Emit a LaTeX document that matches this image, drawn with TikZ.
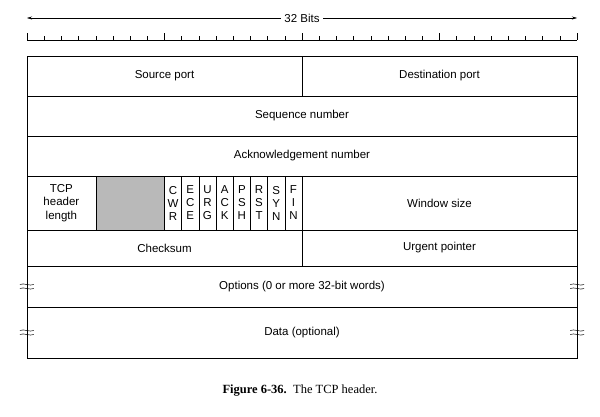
\documentclass[tikz,border=0pt]{standalone}
\usepackage{fontspec}
\setmainfont{Liberation Sans}
\newfontfamily\capfont{Liberation Serif}
\usetikzlibrary{arrows.meta}
\tikzset{
    field/.style={draw, inner sep=0pt, align=center, font=\fontsize{11.5}{13.5}\selectfont},
    flag/.style={field, minimum width=17.1875pt, minimum height=54pt, font=\fontsize{11.5}{13}\selectfont},
    brk/.style={line width=0.5pt}
}
\newcommand{\bitw}{17.1875}
\begin{document}
\begin{tikzpicture}[x=1pt, y=-1pt]
\useasboundingbox (0,0) rectangle (600,417);

% width arrow and ruler
\coordinate (al) at (27,18);
\coordinate (ar) at (577,18);
\draw [{Stealth[length=5pt,width=3pt]}-{Stealth[length=5pt,width=3pt]}] (al) -- node[fill=white, inner sep=3pt, font=\fontsize{11.5}{13.5}\selectfont] (bits) {32 Bits} (ar);
\draw (27,40) -- (577,40);
\foreach \i in {0,...,32} {
    \pgfmathsetmacro{\xx}{27+\i*\bitw}
    \pgfmathtruncatemacro{\m}{mod(\i,8)}
    \ifnum\m=0 \draw (\xx,40) -- (\xx,33); \else \draw (\xx,40) -- (\xx,36.5); \fi
}

% rows
\node [field, minimum width=275pt, minimum height=40pt] (srcport) at (164.5,76) {Source port};
\node [field, minimum width=275pt, minimum height=40pt] (dstport) at (439.5,76) {Destination port};
\node [field, minimum width=550pt, minimum height=40pt] (seqnum) at (302,116) {Sequence number};
\node [field, minimum width=550pt, minimum height=40pt] (acknum) at (302,156) {Acknowledgement number};
\node [field, minimum width=68.75pt, minimum height=54pt] (hdrlen) at (61.375,203) {TCP\\header\\length};
\node [field, fill=gray!55, minimum width=68.75pt, minimum height=54pt] (unused) at (130.125,203) {};
\foreach \f [count=\k from 0] in {C\\W\\R, E\\C\\E, U\\R\\G, A\\C\\K, P\\S\\H, R\\S\\T, S\\Y\\N, F\\I\\N} {
    \pgfmathsetmacro{\xx}{164.5+(\k+0.5)*\bitw}
    \node [flag] (flag\k) at (\xx,203) {\f};
}
\node [field, minimum width=275pt, minimum height=54pt] (window) at (439.5,203) {Window size};
\node [field, minimum width=275pt, minimum height=36pt] (checksum) at (164.5,248) {Checksum};
\node [field, minimum width=275pt, minimum height=36pt] (urgent) at (439.5,248) {Urgent pointer};
\node [field, minimum width=550pt, minimum height=41pt] (options) at (302,286.5) {Options (0 or more 32-bit words)};
\node [field, minimum width=550pt, minimum height=51pt] (data) at (302,332.5) {Data (optional)};

% break marks
\foreach \nd in {options, data} {
    \foreach \s in {west, east} {
        \begin{scope}[shift={(\nd.\s)}]
            \draw [brk] (-7,-2) .. controls (-3,-4) and (3,0) .. (7,-2);
            \draw [brk] (-7,2) .. controls (-3,0) and (3,4) .. (7,2);
        \end{scope}
    }
}

% caption
\node [font=\capfont\fontsize{12.5}{14}\selectfont] (caption) at (300,391) {\textbf{Figure 6-36.}\ \ The TCP header.};
\end{tikzpicture}
\end{document}
